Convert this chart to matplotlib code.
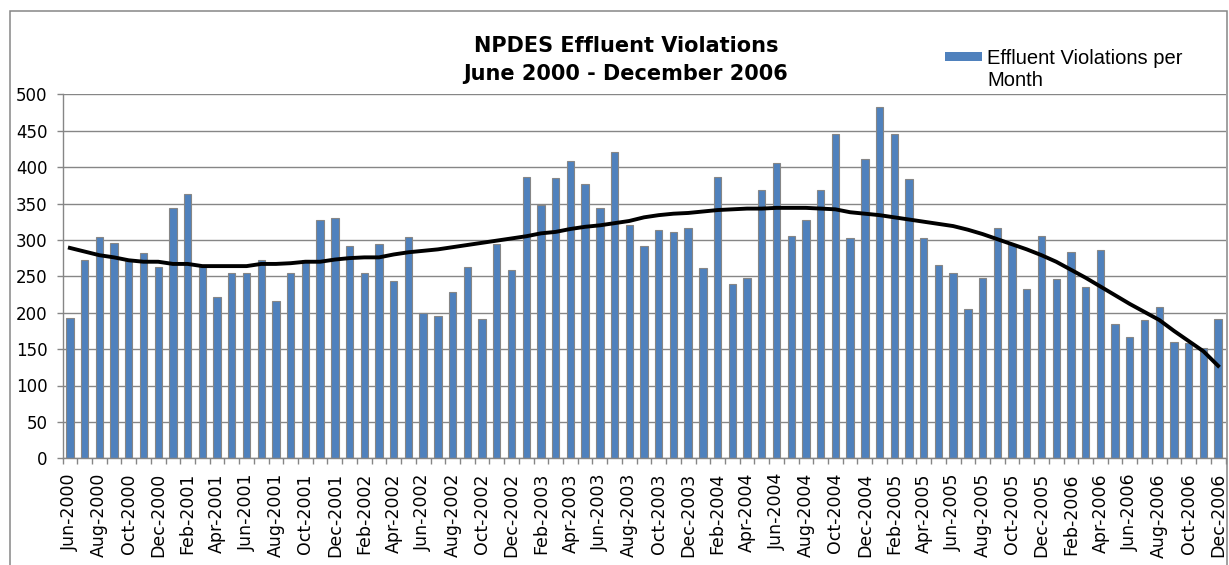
import matplotlib
matplotlib.use('Agg')
import matplotlib.pyplot as plt
from matplotlib.patches import Patch, Rectangle
import numpy as np
import pandas as pd

# mesi da giugno 2000 a dicembre 2006
mesi = pd.date_range('2000-06-01', '2006-12-01', freq='MS')
etichette = [m.strftime('%b-%Y') for m in mesi]

# violazioni al mese
violazioni = [193, 272, 304, 296, 271, 282, 263, 344, 363, 263,
              221, 255, 255, 272, 216, 255, 272, 327, 330, 292,
              255, 294, 243, 304, 200, 196, 228, 263, 192, 294,
              259, 387, 348, 385, 409, 377, 344, 421, 321, 292,
              313, 311, 317, 262, 387, 239, 247, 368, 405, 305,
              328, 368, 445, 302, 411, 483, 445, 383, 302, 266,
              254, 205, 247, 317, 295, 232, 305, 246, 283, 235,
              286, 185, 166, 190, 208, 160, 158, 151, 192]

# linea di tendenza
tendenza = [289, 284, 279, 276, 272, 270, 270, 267, 267, 264,
            264, 264, 264, 267, 267, 268, 270, 270, 273, 275,
            276, 276, 280, 283, 285, 287, 290, 293, 296, 299,
            302, 305, 309, 311, 315, 318, 320, 323, 326, 331,
            334, 336, 337, 339, 341, 342, 343, 343, 344, 344,
            344, 343, 342, 338, 336, 334, 331, 328, 325, 322,
            319, 314, 308, 301, 294, 287, 279, 270, 259, 248,
            236, 224, 212, 201, 190, 175, 161, 147, 127]

W, H = 1229, 565
grigio = '#868686'
blu = '#4F81BD'

fig = plt.figure(figsize=(W / 100, H / 100), dpi=100)
ax = fig.add_axes([62.5 / W, 1 - 458.3 / H, (1225.5 - 62.5) / W, (458.3 - 94.3) / H])

x = np.arange(len(violazioni))
ax.bar(x, violazioni, width=0.5, color=blu, edgecolor=grigio, linewidth=0.8, zorder=2)
ax.plot(x, tendenza, color='black', linewidth=2.8, zorder=3)

ax.set_xlim(-0.5, len(violazioni) - 0.5)
ax.set_ylim(0, 500)
ax.set_yticks(np.arange(0, 501, 50))
ax.yaxis.grid(True, color=grigio, linewidth=1.0)
ax.set_axisbelow(True)

ax.set_xticks(x[::2])
ax.set_xticklabels(etichette[::2], rotation=90, fontsize=12.5, family='DejaVu Sans')
ax.set_xticks(np.arange(-0.5, len(violazioni)), minor=True)
ax.tick_params(axis='x', which='major', length=0, pad=10.6)
ax.tick_params(axis='x', which='minor', length=4, color=grigio, width=1)
ax.tick_params(axis='y', length=4.3, color=grigio, width=1, pad=6.5, labelsize=12)
for lab in ax.get_yticklabels():
    lab.set_family('DejaVu Sans')

for s in ['top', 'right']:
    ax.spines[s].set_visible(False)
for s in ['left', 'bottom']:
    ax.spines[s].set_color(grigio)
    ax.spines[s].set_linewidth(1.0)

# titolo
fig.text(626 / W, 1 - 36 / H, 'NPDES Effluent Violations\nJune 2000 - December 2006',
         ha='center', va='top', fontsize=15, fontweight='bold', family='DejaVu Sans',
         linespacing=1.5)

# legenda
maniglie = [Patch(facecolor=blu, edgecolor='none'), Patch(facecolor='none', edgecolor='none')]
fig.legend(maniglie, ['Effluent Violations per', 'Month'], loc='upper left',
           bbox_to_anchor=(945 / W, 1 - 49 / H), frameon=False, borderpad=0, borderaxespad=0,
           prop={'family': 'Liberation Sans', 'size': 14.5}, handlelength=1.85,
           handleheight=0.3, handletextpad=0.25, labelspacing=0.15)

# bordo del grafico
fig.add_artist(Rectangle((9.5 / W, -0.02), (1227 - 9.5) / W, 1.02 - 11.5 / H,
                         transform=fig.transFigure, fill=False, edgecolor=grigio, linewidth=1.1))

fig.savefig('out.png', dpi=100)
